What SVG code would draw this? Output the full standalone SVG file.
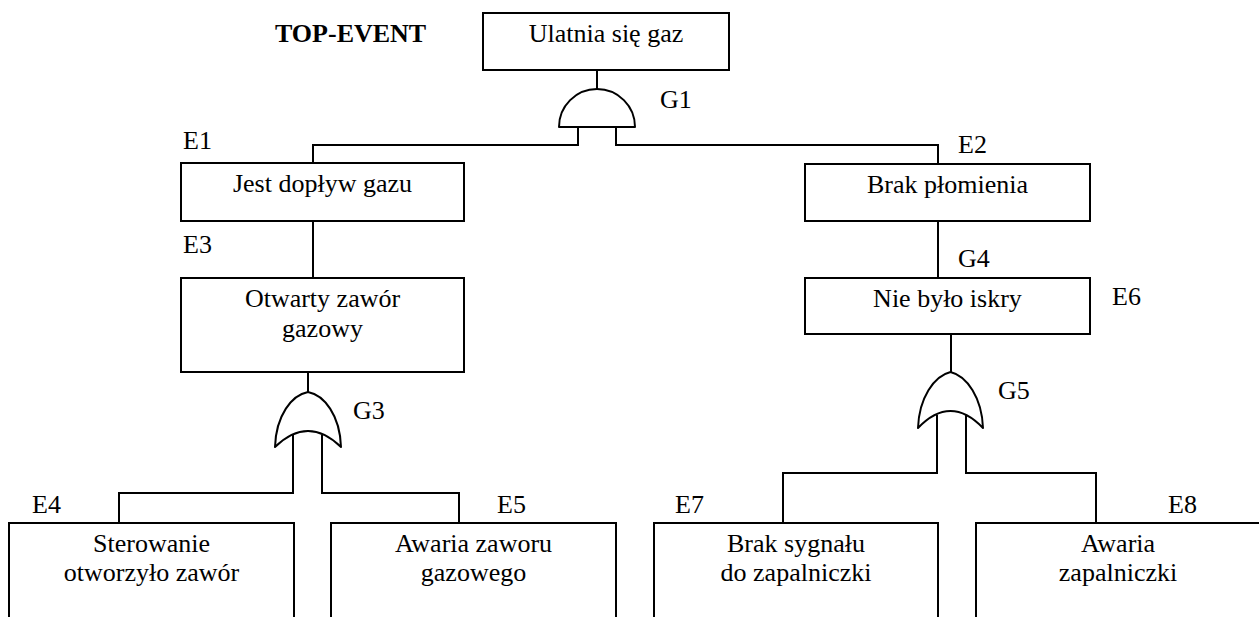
<svg xmlns="http://www.w3.org/2000/svg" width="1259" height="617" viewBox="0 0 1259 617">
<style>
.box{fill:#fff;stroke:#000;stroke-width:2}
.gate{fill:#fff;stroke:#000;stroke-width:2;stroke-linejoin:round}
.ln{fill:none;stroke:#000;stroke-width:2}
text{font-family:"Liberation Serif","Times New Roman",serif;font-size:26px;fill:#000}
.c{text-anchor:middle}
.b{font-weight:bold}
</style>
<rect width="1259" height="617" fill="#fff"/>
<g id="connectors">
<path class="ln" d="M597,70 V89"/>
<path class="ln" d="M578,127 V145 H313 V163"/>
<path class="ln" d="M616,127 V145 H938 V164"/>
<path class="ln" d="M313,221 V278"/>
<path class="ln" d="M308,372 V392"/>
<path class="ln" d="M938,221 V278"/>
<path class="ln" d="M951,334 V372"/>
<path class="ln" d="M293,435 V493 H119 V523"/>
<path class="ln" d="M322,435 V493 H459 V523"/>
<path class="ln" d="M937,415 V473 H783 V523"/>
<path class="ln" d="M966,415 V473 H1096 V523"/>
</g>
<g id="top-label"><text class="b" x="275" y="42">TOP-EVENT</text></g>
<g id="top">
<rect class="box" x="483" y="13" width="246" height="57"/>
<text class="c" x="606" y="42">Ulatnia się gaz</text>
</g>
<g id="G1">
<path class="gate" d="M559,127 A38,38 0 0 1 635,127 Z"/>
<text x="660" y="108">G1</text>
</g>
<g id="E1">
<text x="183" y="149">E1</text>
<rect class="box" x="181" y="163" width="283" height="58"/>
<text class="c" x="322.5" y="192">Jest dopływ gazu</text>
</g>
<g id="E3">
<text x="183" y="253">E3</text>
<rect class="box" x="181" y="278" width="283" height="94"/>
<text class="c" x="322.5" y="307">Otwarty zawór</text>
<text class="c" x="322.5" y="337">gazowy</text>
</g>
<g id="G3">
<path class="gate" d="M275,447 C276,415 292,395 308,392 C324,395 340,415 341,447 Q308,415 275,447 Z"/>
<text x="353" y="419">G3</text>
</g>
<g id="E2">
<text x="958" y="153">E2</text>
<rect class="box" x="805" y="164" width="285" height="57"/>
<text class="c" x="947.5" y="193">Brak płomienia</text>
</g>
<g id="G4">
<text x="958" y="267">G4</text>
<rect class="box" x="805" y="278" width="285" height="56"/>
<text class="c" x="947.5" y="307">Nie było iskry</text>
<text x="1112" y="305">E6</text>
</g>
<g id="G5">
<path class="gate" d="M918,428 C919,398 934,376 950.5,372 C967,376 982,398 983,428 Q950.5,394 918,428 Z"/>
<text x="998" y="399">G5</text>
</g>
<g id="E4">
<text x="32" y="513">E4</text>
<rect class="box" x="9" y="523" width="285" height="110"/>
<text class="c" x="151.5" y="552">Sterowanie</text>
<text class="c" x="151.5" y="581">otworzyło zawór</text>
</g>
<g id="E5">
<text x="497" y="513">E5</text>
<rect class="box" x="331" y="523" width="285" height="110"/>
<text class="c" x="473.5" y="552">Awaria zaworu</text>
<text class="c" x="473.5" y="581">gazowego</text>
</g>
<g id="E7">
<text x="675" y="513">E7</text>
<rect class="box" x="654" y="523" width="284" height="110"/>
<text class="c" x="796" y="552">Brak sygnału</text>
<text class="c" x="796" y="581">do zapalniczki</text>
</g>
<g id="E8">
<text x="1168" y="513">E8</text>
<rect class="box" x="976" y="523" width="284" height="110"/>
<text class="c" x="1118" y="552">Awaria</text>
<text class="c" x="1118" y="581">zapalniczki</text>
</g>
</svg>
